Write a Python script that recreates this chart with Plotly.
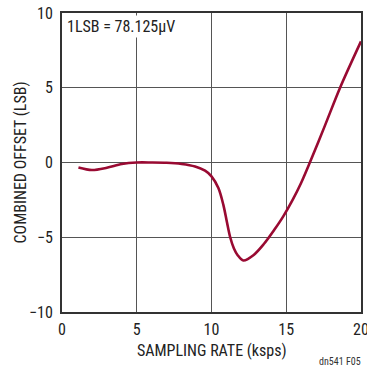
import plotly.graph_objects as go

rate_ksps = [1.1, 2.0, 3.0, 4.0, 5.0, 6.0, 7.0, 8.0, 8.9, 9.57, 10.0, 10.46, 10.79,
             11.02, 11.25, 11.5, 11.75, 12.13, 12.8, 13.5, 14.2, 14.8, 15.4, 16.0,
             16.6, 17.6, 18.6, 20.0]
offset_lsb = [-0.33, -0.5, -0.35, -0.1, 0.0, 0.0, -0.02, -0.1, -0.27, -0.55, -0.93,
              -1.71, -2.82, -3.93, -5.0, -5.75, -6.2, -6.55, -6.2, -5.45, -4.5, -3.6,
              -2.55, -1.35, 0.05, 2.5, 5.0, 8.1]
x_ticks = [0, 5, 10, 15, 20]
y_ticks = [-10, -5, 0, 5, 10]

FONT = "Liberation Sans Narrow, Arial Narrow, Roboto Condensed, Liberation Sans, sans-serif"
TXT = "#222222"

fig = go.Figure()
fig.add_trace(go.Scatter(x=rate_ksps, y=offset_lsb, mode="lines",
                         line=dict(color="#990a32", width=2.6, shape="spline", smoothing=0.9),
                         showlegend=False))

axis_common = dict(showgrid=True, gridcolor="#555555", gridwidth=1,
                   showline=True, linecolor="#333333", linewidth=2, mirror=True,
                   zeroline=False, ticks="", automargin=False, ticklabeloverflow="allow",
                   tickfont=dict(family=FONT, size=16, color=TXT))

fig.update_xaxes(range=[0, 20], tickvals=x_ticks, ticktext=[str(v) for v in x_ticks],
                 ticklabelstandoff=2, **axis_common)
fig.update_yaxes(range=[-10, 10], tickvals=y_ticks,
                 ticktext=[str(v).replace("-", "\u2212") for v in y_ticks],
                 ticklabelstandoff=4, **axis_common)

fig.add_annotation(x=0.5, y=0, xref="paper", yref="paper", xanchor="center", yanchor="middle",
                   text="SAMPLING RATE (ksps)", showarrow=False, yshift=-38,
                   font=dict(family=FONT, size=16, color=TXT))
fig.add_annotation(x=0, y=0.5, xref="paper", yref="paper", xanchor="center", yanchor="middle",
                   text="COMBINED OFFSET (LSB)", showarrow=False, xshift=-42, textangle=-90,
                   font=dict(family=FONT, size=16, color=TXT))
fig.add_annotation(x=0, y=10, xref="x", yref="y", xanchor="left", yanchor="top",
                   text="1LSB = 78.125\u00b5V", showarrow=False, bgcolor="white",
                   font=dict(family=FONT, size=16, color=TXT), xshift=3, yshift=-2)
fig.add_annotation(x=1, y=0, xref="paper", yref="paper", xanchor="right", yanchor="bottom",
                   text="dn541 F05", showarrow=False,
                   font=dict(family=FONT, size=10, color="#333333"), yshift=-57, xshift=2)

fig.update_layout(width=367, height=369, margin=dict(l=62, r=6, t=13, b=57),
                  paper_bgcolor="white", plot_bgcolor="white")
fig.write_html("out.html", config={"displayModeBar": False},
               post_script="document.body.style.margin='0';document.body.style.overflow='hidden';")
